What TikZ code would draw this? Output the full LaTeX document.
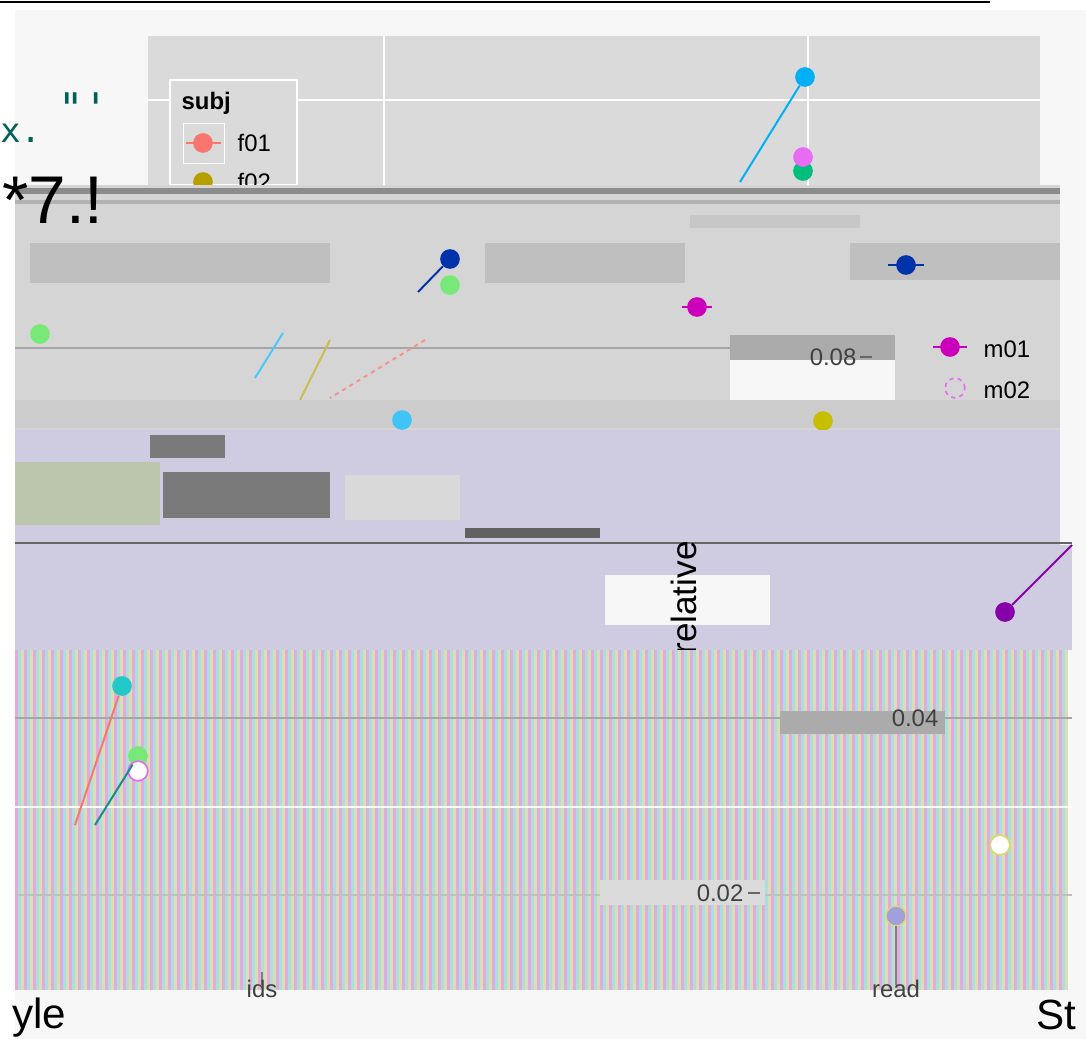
\documentclass[tikz,border=0pt]{standalone}
\usepackage{fontspec}
\setmainfont{Liberation Sans}
\newfontfamily\monofont{DejaVu Sans Mono}
\usepackage{xcolor}

\definecolor{pagebg}{HTML}{F7F7F7}
\definecolor{panelbg}{HTML}{DADADA}
\definecolor{midbg}{HTML}{D5D5D5}
\definecolor{dotbg}{HTML}{CFCCE2}
\definecolor{olivebg}{HTML}{BCC6AC}
\definecolor{stripA}{HTML}{E2AADF}
\definecolor{stripB}{HTML}{AADFDF}
\definecolor{stripC}{HTML}{DEDDB2}
\definecolor{tealtxt}{HTML}{00605C}
\definecolor{cf01}{HTML}{F8766D}
\definecolor{cf02}{HTML}{B79F00}
\definecolor{csky}{HTML}{00B0F6}
\definecolor{cpink}{HTML}{E76BF3}
\definecolor{cgreen}{HTML}{00BF7D}
\definecolor{cnavy}{HTML}{0033AA}
\definecolor{cmag}{HTML}{CC00BB}
\definecolor{cpurp}{HTML}{8800A8}
\definecolor{colive}{HTML}{C8BE00}
\definecolor{ccyan}{HTML}{22C8C8}
\definecolor{clime}{HTML}{78E878}
\definecolor{clav}{HTML}{A0A0DC}

\begin{document}
\begin{tikzpicture}[x=0.025cm, y=-0.025cm,
    grid/.style={white, line width=1.2pt},
    dot/.style={circle, inner sep=0pt, minimum size=14pt},
    seg/.style={line width=1.4pt},
    lab/.style={font=\fontsize{17}{17}\selectfont, inner sep=1pt},
    tick/.style={font=\fontsize{17}{17}\selectfont, text=black!75, inner sep=1pt}]
\useasboundingbox (0,0) rectangle (1086,1039);
\fill[white] (0,0) rectangle (1086,1039);
\fill[pagebg] (15,10) rectangle (1086,1039);
\draw[line width=2pt] (0,2) -- (990,2);

% top panel with legend
\fill[panelbg] (148,36) rectangle (1040,185);
\draw[grid] (384,36) -- (384,185) (808,36) -- (808,185) (148,100) -- (1040,100);
\filldraw[fill=panelbg, draw=white, line width=1pt] (170,80) rectangle (297,185);
\node[lab, font=\bfseries\fontsize{17}{17}\selectfont, anchor=west] (subj) at (180,103) {subj};
\filldraw[fill=panelbg, draw=white] (183,123) rectangle (224,163);
\draw[cf01, seg] (186,143) -- (221,143);
\node[dot, fill=cf01] (kf01) at (203,143) {};
\node[lab, anchor=west] (f01) at (236,143) {f01};
\node[dot, fill=cf02] (kf02) at (203,182) {};
\node[lab, anchor=west] (f02) at (236,182) {f02};

\node[dot, fill=csky] (p1) at (805,77) {};
\coordinate (p1end) at (740,182);
\draw[csky, seg] (p1) -- (p1end);
\node[dot, fill=cgreen] (p2) at (803,171) {};
\node[dot, fill=cpink] (p3) at (803,157) {};

\node[font=\monofont\fontsize{30}{30}\selectfont, text=tealtxt, anchor=west, inner sep=0pt] (q1) at (58,108) {"'};
\node[font=\monofont\fontsize{24}{24}\selectfont, text=tealtxt, anchor=west, inner sep=0pt] (q2) at (0,133) {x.};

% middle band
\fill[midbg] (15,185) rectangle (1060,430);
\fill[black!45] (15,188) rectangle (1060,194);
\fill[black!30] (15,200) rectangle (1060,204);
\fill[black!25] (30,243) rectangle (330,283);
\fill[black!25] (485,243) rectangle (685,283);
\fill[black!25] (850,243) rectangle (1060,280);
\fill[black!22] (690,215) rectangle (860,228);
\draw[black!35, line width=1.5pt] (15,348) -- (730,348);
\fill[black!33] (730,335) rectangle (895,360);
\fill[pagebg] (730,360) rectangle (895,400);
\fill[black!20] (15,400) rectangle (1060,428);

\node[dot, fill=cnavy] (p4) at (450,259) {};
\coordinate (p4end) at (418,292);
\draw[cnavy, seg] (p4) -- (p4end);
\node[dot, fill=clime] (p5) at (450,285) {};
\node[dot, fill=clime] (p6) at (40,334) {};
\node[dot, fill=cmag] (p7) at (697,307) {};
\draw[cmag, seg] (682,307) -- (712,307);
\node[dot, fill=cnavy] (k4) at (906,265) {};
\draw[cnavy, seg] (888,265) -- (924,265);
\coordinate (lnA) at (283,333);
\coordinate (lnB) at (255,378);
\draw[cf01!80, seg, dashed] (425,340) -- (330,398);
\draw[csky!70, seg] (lnA) -- (lnB);
\draw[cf02!70, seg] (330,340) -- (300,400);

\node[tick, anchor=east] (t08) at (858,357) {0.08};
\draw[black!60, line width=1pt] (860,357) -- (872,357);
\node[dot, fill=cmag] (km01) at (950,347) {};
\draw[cmag, seg] (933,347) -- (967,347);
\node[lab, anchor=west] (m01) at (982,349) {m01};
\node[dot, draw=cpink, dashed, line width=1.2pt] (km02) at (955,388) {};
\node[lab, anchor=west] (m02) at (982,390) {m02};
\node[dot, fill=colive] (p8) at (823,421) {};
\node[dot, fill=csky!75] (p9) at (402,420) {};

% dotted bands
\fill[dotbg] (15,430) rectangle (1060,545);
\fill[olivebg] (15,462) rectangle (160,525);
\fill[black!52] (150,435) rectangle (225,458);
\fill[black!52] (163,472) rectangle (330,518);
\fill[black!62] (465,528) rectangle (600,538);
\fill[black!15] (345,475) rectangle (460,520);
\fill[dotbg] (15,545) rectangle (1072,650);
\fill[pagebg] (605,575) rectangle (770,625);
\draw[black!60, line width=1.4pt] (15,543) -- (1072,543);
\node[font=\fontsize{25}{25}\selectfont, rotate=90, inner sep=0pt] (ylab) at (684,598) {relative};
\node[dot, fill=cpurp] (p10) at (1005,612) {};
\coordinate (p10end) at (1072,545);
\draw[cpurp, seg] (p10) -- (p10end);

% striped lower band
\foreach \i in {15,24,...,1066} {
    \fill[stripA] (\i,650) rectangle ++(3,340);
    \fill[stripB] (\i+3,650) rectangle ++(3,340);
    \fill[stripC] (\i+6,650) rectangle ++(3,340);
}
\draw[black!35, line width=1.2pt] (15,718) -- (1072,718);
\draw[white, line width=1.2pt] (15,807) -- (1072,807);
\draw[black!25, line width=1.2pt] (15,895) -- (1072,895);

\node[dot, fill=ccyan] (p11) at (122,686) {};
\node[dot, fill=clime] (p12) at (138,756) {};
\node[dot, fill=white, draw=cpink, line width=1.2pt] (p13) at (138,771) {};
\coordinate (p11end) at (75,825);
\coordinate (p12end) at (95,825);
\draw[cf01, seg] (p11) -- (p11end);
\draw[ccyan!70!black, seg] (p12) -- (p12end);

\fill[black!33] (780,711) rectangle (945,734);
\node[tick, anchor=east] (t04) at (940,718) {0.04};
\fill[black!14] (600,880) rectangle (765,905);
\node[tick, anchor=east] (t02) at (745,893) {0.02};
\draw[black!60, line width=1pt] (748,893) -- (760,893);

\node[dot, fill=white, draw=colive!60, line width=1.2pt] (p14) at (1000,845) {};
\node[dot, fill=clav, draw=colive!60, line width=0.8pt] (p15) at (896,916) {};
\coordinate (xread) at (896,985);
\coordinate (xids) at (262,985);
\draw[black!50, line width=1pt] (p15) -- (xread);
\draw[black!50, line width=1pt] (262,972) -- (xids);

% x axis
\fill[pagebg] (15,990) rectangle (1086,1039);
\node[tick, anchor=north] (ids) at (262,978) {ids};
\node[tick, anchor=north] (read) at (896,978) {read};
\node[font=\fontsize{30}{30}\selectfont, anchor=west, inner sep=0pt] (xl1) at (12,1018) {yle};
\node[font=\fontsize{30}{30}\selectfont, anchor=west, inner sep=0pt] (xl2) at (1036,1015) {St};
\node[font=\fontsize{48}{48}\selectfont, anchor=west, inner sep=0pt] (glitch) at (2,200) {*7.!};
\end{tikzpicture}
\end{document}
